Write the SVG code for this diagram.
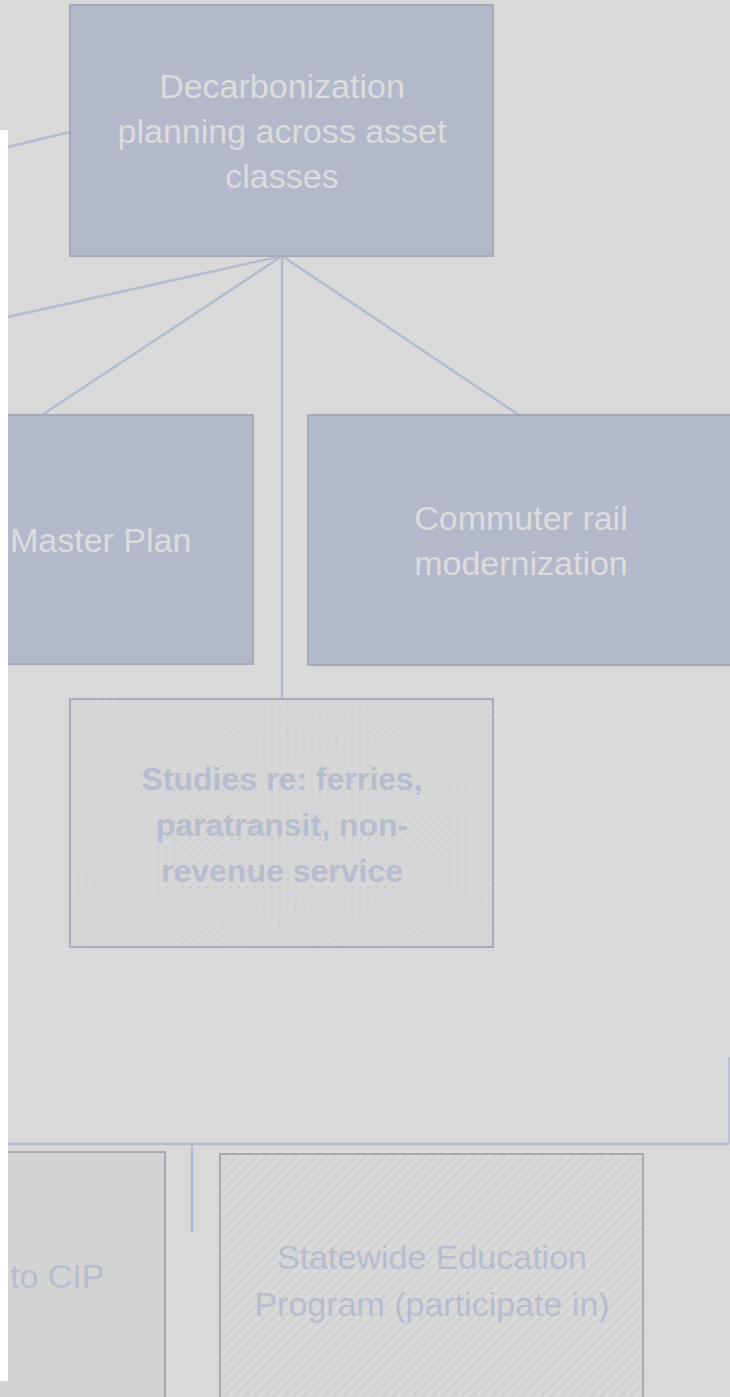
<svg xmlns="http://www.w3.org/2000/svg" width="730" height="1397" viewBox="0 0 730 1397">
<style>
.solid{fill:#b3b9cb;stroke:#a6aab6;stroke-width:2}
.lt{font-family:"Liberation Sans",Arial,sans-serif;font-size:34px;fill:#dcdcdd;text-anchor:middle}
.bt{font-family:"Liberation Sans",Arial,sans-serif;font-size:34px;fill:#b6bdcf;text-anchor:middle}
.conn line{stroke:#b3bbcf;stroke-width:2.5;fill:none}
</style>
<defs>
<pattern id="dots" width="8.1" height="8.1" patternUnits="userSpaceOnUse" x="73" y="705">
<rect width="8.1" height="8.1" fill="#d6d6d6"/>
<rect x="3.4" y="3.4" width="1.4" height="1.4" fill="#b4bbcd"/>
</pattern>
<pattern id="hatch" width="7" height="7" patternUnits="userSpaceOnUse" patternTransform="rotate(45)">
<rect width="7" height="7" fill="#d3d3d3"/>
<rect width="3" height="7" fill="#dadada"/>
</pattern>
</defs>
<rect x="0" y="0" width="730" height="1397" fill="#d9d9d9"/>
<g id="connectors" class="conn">
<line x1="282" y1="256" x2="8" y2="317"/>
<line x1="282" y1="256" x2="42" y2="415"/>
<line x1="282" y1="256" x2="282" y2="699"/>
<line x1="282" y1="256" x2="519" y2="415"/>
<line x1="70" y1="132" x2="8" y2="147"/>
<line x1="8" y1="1144" x2="729" y2="1144"/>
<line x1="729" y1="1144" x2="729" y2="1057" style="stroke-width:1.5"/>
<line x1="192" y1="1144" x2="192" y2="1232"/>
</g>
<g id="node-decarbonization">
<rect class="solid" x="70" y="5" width="423" height="251"/>
<text class="lt" x="282" y="98">Decarbonization</text>
<text class="lt" x="282" y="143">planning across asset</text>
<text class="lt" x="282" y="188">classes</text>
</g>
<g id="node-master-plan">
<rect class="solid" x="-170" y="415" width="423" height="249"/>
<text class="lt" x="10" y="552" style="text-anchor:start">Master Plan</text>
</g>
<g id="node-commuter-rail">
<rect class="solid" x="308" y="415" width="430" height="250"/>
<text class="lt" x="521" y="530">Commuter rail</text>
<text class="lt" x="521" y="575">modernization</text>
</g>
<g id="node-studies">
<rect x="70" y="699" width="423" height="248" fill="url(#dots)" stroke="#a7abb7" stroke-width="2"/>
<text class="bt" x="282" y="790" style="font-weight:bold;font-size:32px">Studies re: ferries,</text>
<text class="bt" x="282" y="836" style="font-weight:bold;font-size:32px">paratransit, non-</text>
<text class="bt" x="282" y="882" style="font-weight:bold;font-size:32px">revenue service</text>
</g>
<g id="node-cip">
<rect x="-260" y="1152" width="425" height="260" fill="#d3d3d3" stroke="#a7a9b1" stroke-width="2"/>
<text class="bt" x="10" y="1288" style="text-anchor:start">to CIP</text>
</g>
<g id="node-statewide">
<rect x="220" y="1154" width="423" height="260" fill="url(#hatch)" stroke="#a7a9b1" stroke-width="2"/>
<text class="bt" x="432" y="1269">Statewide Education</text>
<text class="bt" x="432" y="1316">Program (participate in)</text>
</g>
<rect x="0" y="130" width="8" height="1251" fill="#ffffff"/>
</svg>
